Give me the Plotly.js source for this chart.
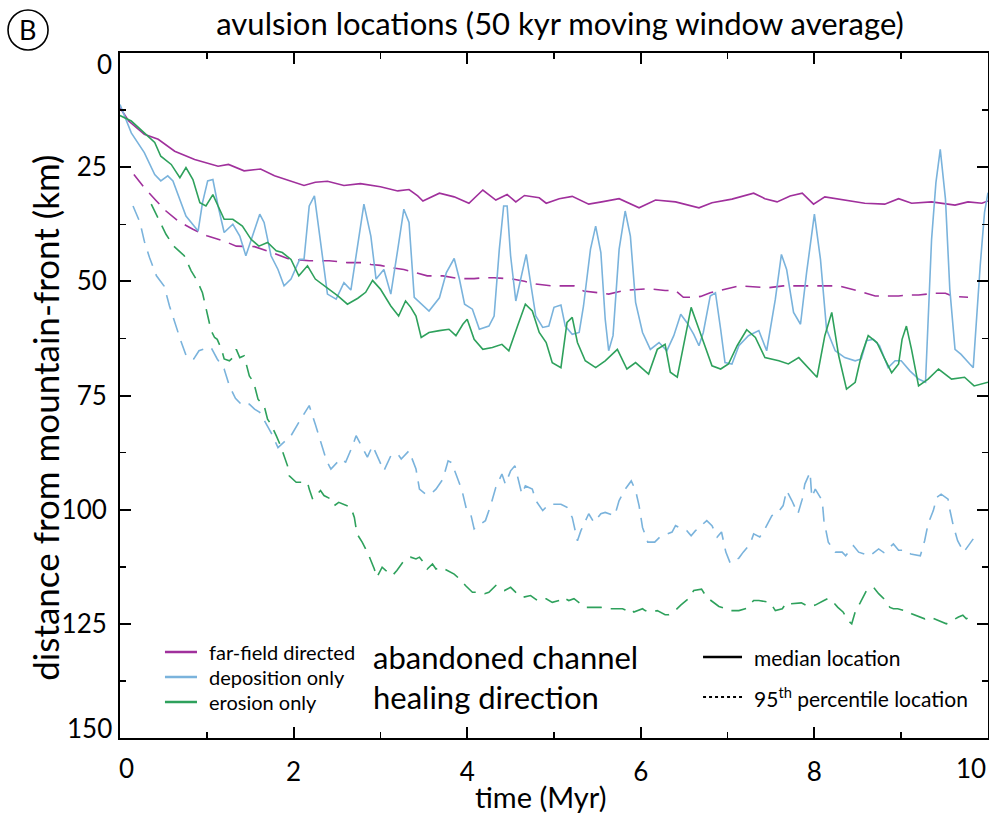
<!DOCTYPE html>
<html><head><meta charset="utf-8">
<script src="https://cdn.plot.ly/plotly-3.0.1.min.js"></script>
<style>html,body{margin:0;padding:0;background:#fff;}#chart{width:989px;height:816px;}</style>
</head><body><div id="chart"></div>
<script>
// ---- far-field directed: median ----
const farMedT = [0,0.1,0.28,0.44,0.63,0.86,1.13,1.25,1.43,1.62,1.78,2.01,2.12,2.25,2.39,2.58,2.77,3.0,3.2,3.33,3.43,3.49,3.68,3.85,4.02,4.18,4.33,4.46,4.56,4.66,4.83,4.91,5.06,5.21,5.40,5.55,5.75,5.98,6.17,6.40,6.67,6.82,7.05,7.30,7.43,7.57,7.72,7.86,7.99,8.12,8.35,8.58,8.81,8.97,9.12,9.35,9.62,9.77,9.93,10.0];
const farMedD = [12.0,14.9,17.8,18.9,21.5,23.3,24.8,24.4,25.8,25.4,26.9,28.4,29.0,28.3,28.1,29.0,28.6,29.3,30.2,29.9,31.3,32.4,30.7,31.5,32.9,30.0,32.2,31.0,32.6,31.2,31.7,32.9,31.9,31.4,33.1,32.6,31.9,33.9,32.2,32.6,33.9,32.8,32.0,30.7,31.9,32.6,31.3,30.7,33.1,31.5,32.2,32.9,33.1,31.9,32.9,32.6,33.3,32.6,32.9,32.4];
// ---- deposition only: median ----
const depMedT = [0,0.13,0.28,0.40,0.47,0.55,0.61,0.69,0.76,0.90,0.95,1.01,1.07,1.13,1.20,1.30,1.38,1.45,1.51,1.61,1.66,1.74,1.82,1.89,1.97,2.07,2.12,2.18,2.24,2.31,2.39,2.49,2.58,2.66,2.73,2.81,2.89,2.95,3.04,3.12,3.20,3.27,3.33,3.39,3.56,3.68,3.76,3.85,3.91,3.97,4.06,4.14,4.25,4.31,4.37,4.42,4.46,4.50,4.56,4.62,4.68,4.73,4.79,4.87,4.94,5.00,5.08,5.13,5.21,5.29,5.34,5.42,5.48,5.54,5.59,5.63,5.68,5.75,5.82,5.88,5.94,6.02,6.11,6.21,6.30,6.38,6.46,6.53,6.61,6.67,6.72,6.80,6.86,6.92,6.97,7.05,7.13,7.24,7.36,7.45,7.55,7.62,7.68,7.76,7.84,7.91,8.00,8.07,8.14,8.24,8.35,8.47,8.54,8.60,8.68,8.75,8.85,8.93,9.00,9.10,9.20,9.28,9.35,9.40,9.45,9.51,9.56,9.62,9.69,9.79,9.83,9.91,9.96,10.0];
const depMedD = [11.3,17.5,21.8,26.6,28.0,26.9,28.0,32.0,35.7,39.0,32.8,28.0,27.7,33.5,39.3,37.5,40.1,44.4,40.8,35.3,37.1,44.4,47.4,51.0,49.5,45.2,45.2,33.5,31.3,40.8,52.8,53.9,50.3,51.9,43.0,33.1,40.1,49.5,47.4,52.8,43.0,34.2,37.1,53.5,56.5,53.6,48.1,45.0,49.5,55.0,56.1,60.5,59.8,57.6,43.0,33.5,33.5,44.4,54.3,48.8,44.1,50.3,57.6,60.1,59.8,55.7,55.2,59.8,61.6,61.2,55.4,43.0,37.9,43.7,58.3,65.2,61.9,43.0,34.6,40.1,54.6,61.2,64.9,63.4,65.2,61.9,57.2,59.0,61.6,64.1,61.2,53.2,52.5,60.5,67.8,68.1,64.1,61.9,60.8,65.2,53.9,44.1,47.4,56.8,59.4,48.1,35.3,45.2,60.5,65.2,66.7,67.4,67.0,63.0,62.7,64.1,68.9,67.4,67.4,69.6,71.4,72.1,40.8,28.4,21.1,32.0,51.7,64.9,66.0,68.1,68.9,46.6,34.9,30.6];
// ---- erosion only: median ----
const eroMedT = [0,0.13,0.28,0.40,0.47,0.59,0.69,0.76,0.84,0.92,0.99,1.07,1.13,1.20,1.30,1.41,1.51,1.60,1.70,1.80,1.87,1.97,2.06,2.16,2.25,2.33,2.39,2.51,2.62,2.74,2.83,2.91,3.00,3.12,3.21,3.29,3.35,3.41,3.47,3.56,3.68,3.79,3.87,3.95,4.00,4.08,4.18,4.29,4.40,4.48,4.58,4.67,4.75,4.83,4.91,4.98,5.08,5.15,5.21,5.27,5.36,5.48,5.59,5.73,5.84,5.94,6.09,6.19,6.28,6.34,6.42,6.49,6.58,6.67,6.74,6.82,6.92,7.01,7.11,7.22,7.32,7.43,7.59,7.70,7.82,7.93,8.03,8.12,8.20,8.28,8.37,8.47,8.54,8.62,8.72,8.81,8.89,8.97,9.01,9.06,9.12,9.20,9.31,9.43,9.58,9.73,9.84,10.0];
const eroMedD = [13.7,14.9,17.5,19.6,22.6,24.4,27.3,25.1,27.7,32.8,33.5,31.0,33.5,36.4,36.4,37.9,40.8,42.3,41.5,43.3,43.7,45.2,48.8,46.6,49.5,50.6,51.4,53.2,55.0,53.7,52.4,49.8,51.7,55.4,57.6,54.3,55.7,57.6,62.3,61.2,60.8,60.5,61.9,59.4,58.3,62.7,64.9,64.5,63.8,65.2,59.8,55.0,56.5,61.2,63.4,67.8,68.9,59.0,57.9,63.4,67.4,68.9,67.4,64.9,69.2,67.8,70.3,64.9,63.8,69.9,71.0,64.1,55.7,60.5,64.1,68.5,69.2,68.1,64.1,60.6,62.3,66.7,67.4,68.1,66.7,68.9,71.0,61.9,56.8,66.3,73.6,72.1,66.3,61.9,63.4,67.0,70.0,68.1,62.7,59.8,65.0,72.9,71.4,69.2,71.4,71.0,72.9,72.1];
// ---- far-field directed: 95th percentile ----
const far95T = [0.16,0.28,0.42,0.53,0.67,0.84,1.01,1.20,1.34,1.55,1.74,1.93,2.06,2.18,2.41,2.62,2.79,2.89,3.0,3.12,3.27,3.43,3.54,3.72,3.91,4.08,4.19,4.31,4.46,4.52,4.66,4.79,4.98,5.23,5.34,5.63,5.81,6.09,6.28,6.40,6.49,6.59,6.69,6.80,7.13,7.47,7.64,7.74,7.86,8.03,8.22,8.28,8.51,8.62,8.70,8.75,8.85,8.97,9.08,9.20,9.39,9.51,9.60,9.77];
const far95D = [26.6,29.5,32.4,34.6,36.8,38.6,40.1,41.2,42.3,42.4,43.6,45.0,45.3,45.5,45.5,45.9,45.9,46.3,46.5,47.0,47.4,48.2,48.8,48.8,49.4,49.4,49.2,49.2,49.5,49.5,50.0,50.6,51.0,51.0,52.1,52.8,52.0,51.6,52.0,52.0,53.5,53.5,53.3,52.5,51.0,51.4,51.0,51.0,51.0,51.0,51.0,51.0,52.1,52.8,53.2,53.2,53.2,53.2,53.0,53.0,52.6,52.6,53.3,53.5];
// ---- deposition only: 95th percentile ----
const dep95T = [0.15,0.23,0.28,0.34,0.42,0.51,0.57,0.63,0.70,0.77,0.85,0.91,0.99,1.05,1.12,1.20,1.26,1.33,1.41,1.49,1.55,1.61,1.74,1.82,1.97,2.06,2.18,2.25,2.28,2.32,2.38,2.43,2.54,2.60,2.68,2.72,2.77,2.85,2.91,2.97,3.04,3.12,3.20,3.24,3.33,3.41,3.45,3.52,3.58,3.64,3.72,3.78,3.82,3.87,3.94,3.99,4.04,4.08,4.16,4.21,4.27,4.33,4.40,4.44,4.50,4.55,4.63,4.67,4.75,4.79,4.87,4.94,5.02,5.08,5.15,5.21,5.27,5.31,5.40,5.46,5.54,5.59,5.70,5.75,5.82,5.89,5.94,5.98,6.02,6.08,6.16,6.22,6.36,6.40,6.48,6.53,6.58,6.63,6.76,6.82,6.88,6.93,6.98,7.03,7.13,7.18,7.26,7.30,7.37,7.43,7.51,7.57,7.64,7.68,7.74,7.81,7.86,7.89,7.95,7.97,8.01,8.09,8.11,8.16,8.24,8.32,8.36,8.45,8.51,8.58,8.64,8.74,8.80,8.91,8.97,9.06,9.11,9.22,9.27,9.31,9.37,9.41,9.46,9.54,9.55,9.60,9.65,9.72,9.77,9.83];
const dep95D = [33.5,37.1,41.2,44.8,48.8,51.1,55.4,59.0,63.0,66.7,67.0,65.2,64.7,64.5,67.0,69.2,72.9,75.6,77.2,76.9,78.0,78.7,83.1,86.4,83.8,80.9,77.2,81.3,83.4,85.6,89.3,91.1,88.9,89.6,86.0,83.8,85.6,88.5,86.0,88.5,91.5,88.2,87.8,88.9,87.1,91.1,95.5,96.6,96.6,95.5,93.3,89.3,89.7,92.2,95.8,99.8,100.9,104.2,103.1,102.4,99.1,95.1,92.2,94.4,91.5,90.4,96.6,94.8,95.5,98.0,100.2,98.8,98.8,98.8,99.5,101.7,106.8,104.6,100.9,102.8,100.9,100.6,101.3,98.0,95.5,93.7,95.8,99.1,103.9,107.1,107.1,106.0,104.9,103.5,104.2,104.6,105.7,104.6,102.4,103.5,106.0,104.9,109.3,111.7,110.6,109.3,107.5,105.3,106.0,104.2,101.3,100.9,99.1,95.8,98.0,100.9,97.7,94.4,91.8,97.3,95.5,98.0,102.4,107.1,109.3,109.3,110.1,107.9,109.3,109.7,110.1,108.6,109.4,107.5,108.9,108.9,109.7,110.1,106.8,103.1,100.2,97.3,96.6,97.7,99.1,103.5,106.8,109.3,107.9,106.4];
// ---- erosion only: 95th percentile ----
const ero95T = [0.36,0.44,0.53,0.62,0.74,0.82,0.89,0.95,1.00,1.05,1.09,1.12,1.17,1.20,1.26,1.30,1.34,1.38,1.43,1.49,1.54,1.59,1.62,1.66,1.70,1.74,1.80,1.85,1.93,1.95,2.03,2.16,2.18,2.22,2.31,2.35,2.43,2.47,2.52,2.58,2.66,2.70,2.73,2.79,2.86,2.93,2.96,3.02,3.06,3.14,3.19,3.27,3.35,3.41,3.45,3.51,3.54,3.60,3.64,3.70,3.77,3.85,3.93,3.98,4.06,4.14,4.20,4.25,4.33,4.39,4.43,4.50,4.56,4.64,4.73,4.81,4.85,4.91,4.98,5.06,5.10,5.17,5.23,5.31,5.36,5.46,5.54,5.63,5.67,5.79,5.84,5.88,5.92,6.02,6.05,6.09,6.19,6.28,6.32,6.38,6.46,6.55,6.61,6.70,6.76,6.84,6.90,6.97,7.03,7.13,7.22,7.30,7.36,7.49,7.55,7.63,7.68,7.73,7.85,7.93,8.01,8.11,8.16,8.22,8.27,8.33,8.39,8.43,8.47,8.53,8.60,8.68,8.74,8.80,8.87,8.91,8.96,9.00,9.10,9.12,9.27,9.33,9.46,9.52,9.66,9.71,9.75,9.83];
const ero95D = [33.1,36.1,39.7,42.3,44.4,47.7,49.9,52.5,56.8,60.8,62.3,62.7,64.9,67.0,67.4,66.7,64.9,66.7,66.3,70.7,72.1,75.8,76.5,77.2,80.2,81.3,83.8,86.0,90.4,92.6,94.0,94.0,95.5,97.7,95.8,96.9,97.7,99.1,98.4,98.8,99.5,101.7,105.3,107.1,109.7,113.0,114.8,112.6,113.3,114.4,113.3,111.2,110.4,110.8,110.4,111.9,113.0,111.9,113.0,112.6,113.3,114.1,115.5,116.6,118.1,118.1,118.4,118.1,116.6,117.4,117.7,117.0,118.1,119.2,118.8,119.9,119.5,119.5,120.3,119.9,119.2,119.9,119.5,120.6,121.4,121.4,121.4,121.7,121.7,121.7,122.1,121.7,122.4,121.7,122.1,122.4,122.1,123.0,123.0,122.4,120.9,119.5,117.7,117.4,119.2,120.3,121.2,121.6,122.1,122.1,121.6,119.9,119.9,120.3,122.1,121.7,120.3,120.6,120.4,121.2,120.9,119.9,119.4,120.3,121.4,122.4,124.3,125.0,122.4,120.3,117.7,117.0,118.4,119.5,121.4,121.7,121.7,121.9,122.4,122.8,123.9,123.5,124.6,125.0,123.5,123.1,123.9,123.1];

// axis range ends and interior tick labels
const xEnds = [0,10];
const xTickVals = [2,4,6,8];
const yEnds = [0,150];
const yTickVals = [25,50,75,100,125];

const seriesNames = ['far-field directed','deposition only','erosion only'];
const styleNames = ['median location','95<sup>th</sup> percentile location'];
const PURPLE = '#a0309c', BLUE = '#7ab3dc', GREEN = '#2ea15c';
const seriesColors = [PURPLE, BLUE, GREEN];
const FONT = 'Lato, "Open Sans", sans-serif';
const DASH95 = '15px,9px';

const traces = [
  {x: far95T, y: far95D, mode:'lines', line:{color:PURPLE,width:1.6,dash:DASH95}, name:seriesNames[0]+' (95th)'},
  {x: dep95T, y: dep95D, mode:'lines', line:{color:BLUE,width:1.6,dash:DASH95}, name:seriesNames[1]+' (95th)'},
  {x: ero95T, y: ero95D, mode:'lines', line:{color:GREEN,width:1.6,dash:DASH95}, name:seriesNames[2]+' (95th)'},
  {x: farMedT, y: farMedD, mode:'lines', name: seriesNames[0], line:{color:PURPLE,width:1.6}},
  {x: depMedT, y: depMedD, mode:'lines', name: seriesNames[1], line:{color:BLUE,width:1.6}},
  {x: eroMedT, y: eroMedD, mode:'lines', name: seriesNames[2], line:{color:GREEN,width:1.6}}
];

const axisCommon = {
  showline:true, linewidth:2, linecolor:'#000', mirror:'ticks',
  ticks:'inside', ticklen:11, tickwidth:2, tickcolor:'#000',
  showgrid:false, zeroline:false,
  tickfont:{family:FONT, size:26, color:'#000'}
};

// legend (drawn as key lines + labels in paper space)
const shapes = [{type:'circle', xref:'paper', yref:'paper', x0:-0.129, x1:-0.0829, y0:1.0044, y1:1.0628,
                 line:{color:'#000', width:1.6}}];
const annotations = [];
const leg1Rows = [0.1255, 0.0891, 0.0526];
seriesNames.forEach((n,i) => {
  shapes.push({type:'line', xref:'paper', yref:'paper', x0:0.0518, x1:0.0887, y0:leg1Rows[i], y1:leg1Rows[i],
               line:{color:seriesColors[i], width:2.6}});
  annotations.push({text:n, xref:'paper', yref:'paper', x:0.1002, y:leg1Rows[i], xanchor:'left', yanchor:'middle',
                    showarrow:false, font:{family:FONT,size:20,color:'#000'}});
});
const leg2Rows = [0.1182, 0.0599];
styleNames.forEach((n,i) => {
  shapes.push({type:'line', xref:'paper', yref:'paper', x0:0.6717, x1:0.7166, y0:leg2Rows[i], y1:leg2Rows[i],
               line:{color:'#000', width:i===0?2.6:2, dash:i===0?'solid':'dot'}});
  annotations.push({text:n, xref:'paper', yref:'paper', x:0.7281, y:leg2Rows[i], xanchor:'left', yanchor:'middle',
                    showarrow:false, font:{family:FONT,size:21,color:'#000'}});
});

annotations.push(
  {text:'B', xref:'paper', yref:'paper', x:-0.106, y:1.0336, showarrow:false, xanchor:'center', yanchor:'middle',
   font:{family:FONT,size:27,color:'#000'}},
  {text:'abandoned channel<br>healing direction', xref:'paper', yref:'paper', x:0.289, y:0.089,
   xanchor:'left', yanchor:'middle', align:'left', showarrow:false, font:{family:FONT,size:31,color:'#000'}},
  {text:'distance from mountain-front (km)', xref:'paper', yref:'paper', x:-0.0864, y:0.4675, textangle:-90,
   xanchor:'center', yanchor:'middle', showarrow:false, font:{family:FONT,size:35,color:'#000'}},
  {text:'time (Myr)', xref:'paper', yref:'paper', x:0.485, y:-0.0855,
   xanchor:'center', yanchor:'middle', showarrow:false, font:{family:FONT,size:29,color:'#000'}},
  {text:String(xEnds[0]), xref:'x', yref:'paper', x:xEnds[0], y:0, yanchor:'top', xanchor:'center', xshift:6, yshift:-12, showarrow:false,
   font:{family:FONT,size:26,color:'#000'}},
  {text:String(xEnds[1]), xref:'x', yref:'paper', x:xEnds[1], y:0, yanchor:'top', xanchor:'right', xshift:0, yshift:-12, showarrow:false,
   font:{family:FONT,size:26,color:'#000'}},
  {text:String(yEnds[0]), xref:'paper', yref:'y', x:0, y:yEnds[0], xanchor:'right', yanchor:'middle', xshift:-6, yshift:-11, showarrow:false,
   font:{family:FONT,size:26,color:'#000'}},
  {text:String(yEnds[1]), xref:'paper', yref:'y', x:0, y:yEnds[1], xanchor:'right', yanchor:'middle', xshift:-6, yshift:10, showarrow:false,
   font:{family:FONT,size:26,color:'#000'}}
);

const layout = {
  width:989, height:816,
  margin:{l:120, r:1, t:53, b:78},
  paper_bgcolor:'#fff', plot_bgcolor:'#fff',
  font:{family:FONT, color:'#000'},
  showlegend:false,
  title:{text:'avulsion locations (50 kyr moving window average)', font:{family:FONT,size:31,color:'#000'},
         x:0.507, xref:'paper', xanchor:'center', y:0.970, yref:'container', yanchor:'middle'},
  xaxis: Object.assign({}, axisCommon, {
    range:xEnds, tickmode:'array', tickvals:xTickVals,
    minor:{tickmode:'linear', tick0:0, dtick:1, ticks:'inside', ticklen:6, tickwidth:1.5, tickcolor:'#000'},
    ticklabelstandoff:10
  }),
  yaxis: Object.assign({}, axisCommon, {
    range:[yEnds[1], yEnds[0]], tickmode:'array', tickvals:yTickVals,
    minor:{tickmode:'linear', tick0:0, dtick:12.5, ticks:'inside', ticklen:6, tickwidth:1.5, tickcolor:'#000'},
    ticklabelstandoff:6
  }),
  shapes: shapes,
  annotations: annotations
};

Plotly.newPlot('chart', traces, layout, {displayModeBar:false, staticPlot:true});
</script>
</body></html>
